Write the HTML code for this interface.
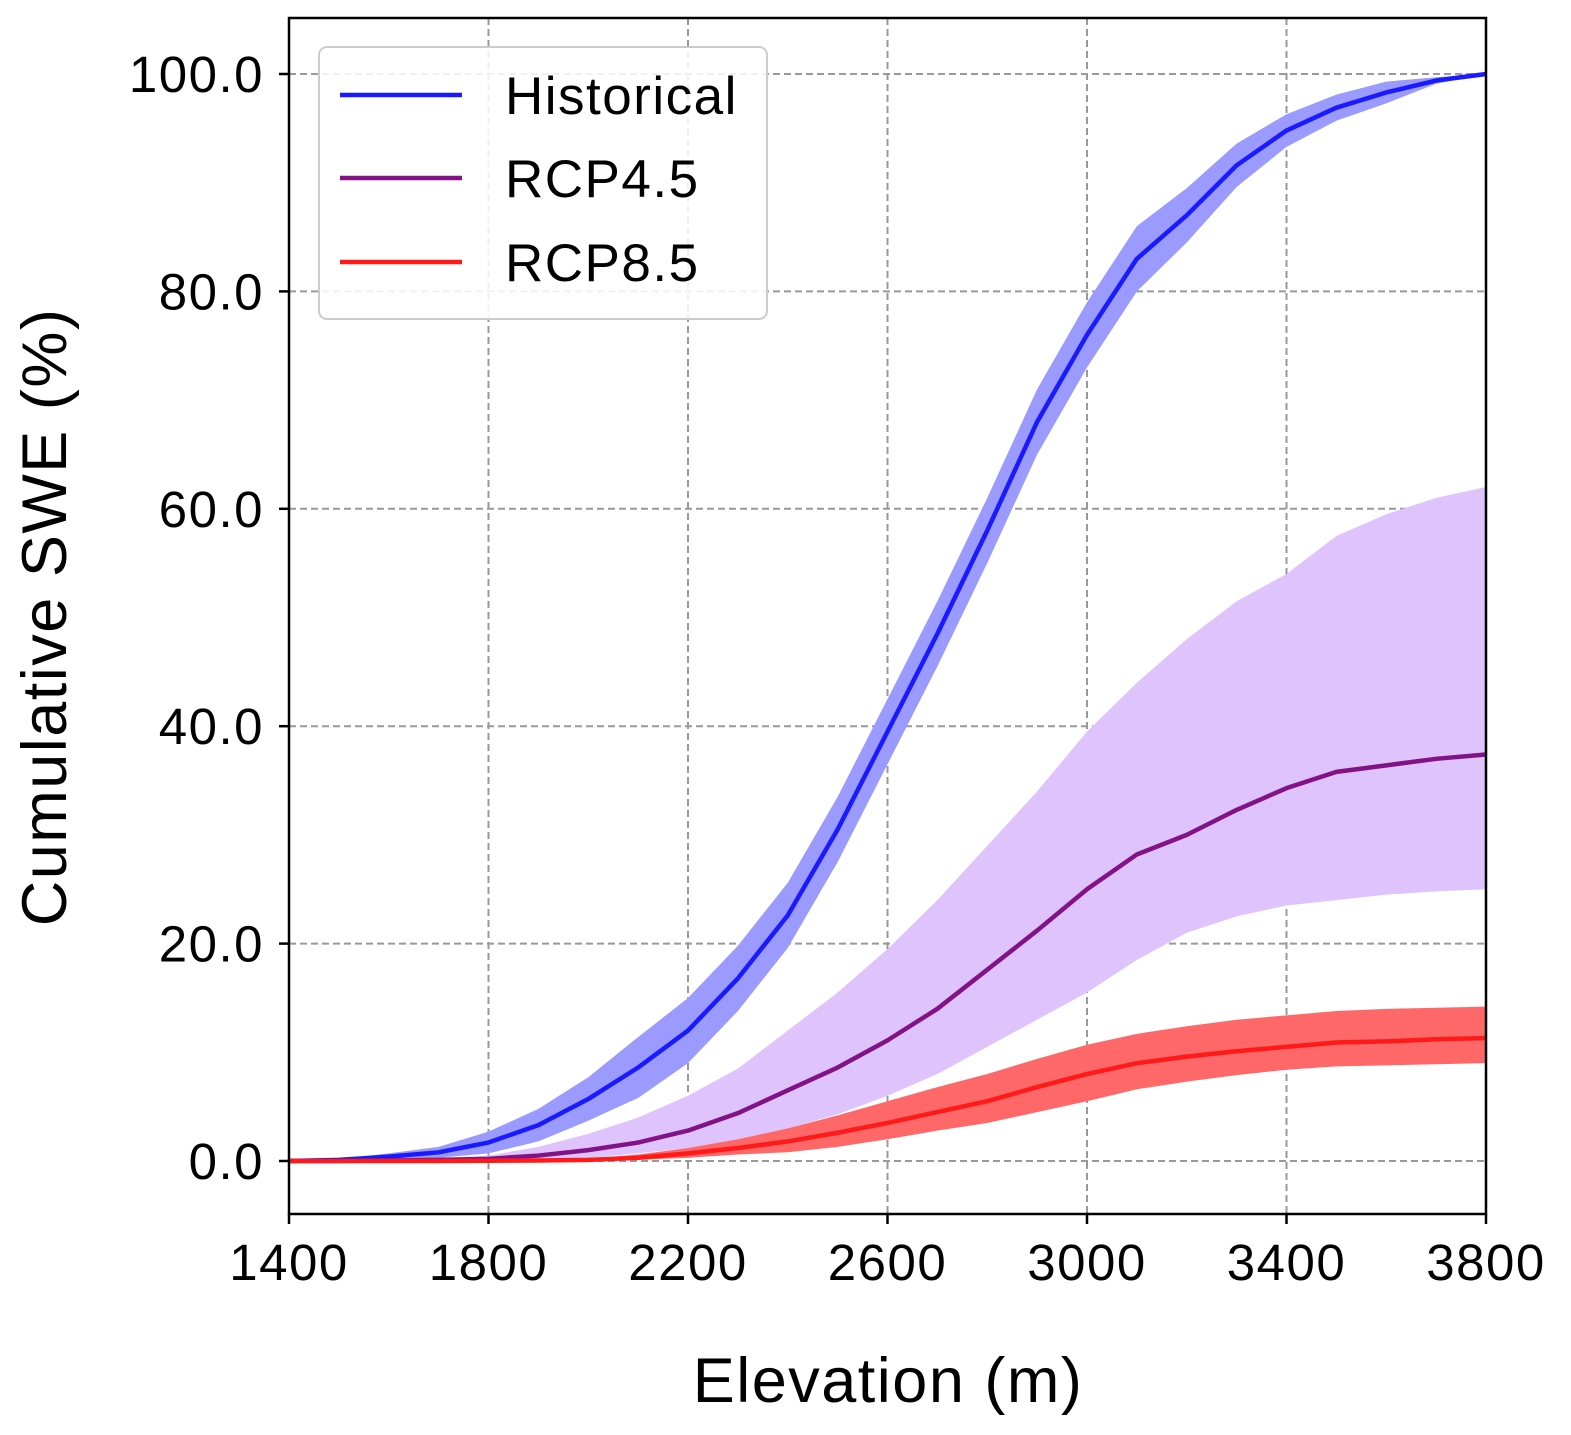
<!DOCTYPE html>
<html><head><meta charset="utf-8"><style>
html,body{margin:0;padding:0;background:#fff;}
svg{display:block;font-family:"Liberation Sans",Arial,sans-serif;}
</style></head><body>
<svg id="chart" width="1571" height="1435" viewBox="0 0 1571 1435"></svg>
<script>
const elev = [1400,1500,1600,1700,1800,1900,2000,2100,2200,2300,2400,2500,2600,2700,2800,2900,3000,3100,3200,3300,3400,3500,3600,3700,3800];
const histMean = [0,0.1,0.4,0.8,1.7,3.3,5.7,8.6,12,16.8,22.6,30.5,39.5,48.5,58,68,76,83,87,91.6,94.8,96.9,98.3,99.4,100];
const histLo = [0,0,0.1,0.3,0.7,1.8,3.7,5.8,9,13.8,19.6,27.5,36.5,45.5,55,65,73,80,84.5,89.6,93.3,95.7,97.3,99.1,100];
const histHi = [0,0.2,0.7,1.3,2.7,4.8,7.7,11.4,15,19.8,25.6,33.5,42.5,51.5,61,71,79,86,89.5,93.6,96.3,98.1,99.3,99.7,100];
const r45Mean = [0,0,0.05,0.1,0.2,0.5,1,1.7,2.8,4.4,6.5,8.6,11.1,14,17.6,21.2,25,28.2,30,32.3,34.3,35.8,36.4,37,37.4];
const r45Lo = [0,0,0,0,0,0.1,0.3,0.7,1.2,2,3,4.3,6,8,10.5,13,15.5,18.5,21,22.5,23.5,24,24.5,24.8,25];
const r45Hi = [0,0,0.1,0.2,0.5,1.3,2.5,4,6,8.5,12,15.5,19.5,24,29,34,39.5,44,48,51.5,54,57.5,59.5,61,62];
const r85Mean = [0,0,0,0,0.02,0.05,0.1,0.3,0.7,1.2,1.8,2.6,3.5,4.5,5.5,6.8,8,9,9.6,10.1,10.5,10.9,11,11.2,11.3];
const r85Lo = [0,0,0,0,0,0.02,0.05,0.1,0.3,0.6,0.8,1.3,2,2.8,3.5,4.5,5.5,6.6,7.3,7.9,8.4,8.7,8.8,8.9,9];
const r85Hi = [0,0,0,0,0.05,0.1,0.2,0.6,1.2,2,3,4.2,5.5,6.8,8,9.4,10.7,11.7,12.4,13,13.4,13.8,14,14.1,14.2];
const xTicks = [1400,1800,2200,2600,3000,3400,3800];
const yTicks = [0,20,40,60,80,100];

const L=289,R=1486,T=18,B=1214;
const xs=v=>L+(v-1400)/2400*(R-L);
const ys=v=>1161-v*10.87;
const NS="http://www.w3.org/2000/svg";
const svg=document.getElementById('chart');
function mk(tag,attrs,parent){const e=document.createElementNS(NS,tag);for(const k in attrs)e.setAttribute(k,attrs[k]);(parent||svg).appendChild(e);return e;}

const grid=mk('g',{});


xTicks.forEach(t=>{const l=mk('line',{x1:xs(t),x2:xs(t),y1:T,y2:B,stroke:'#999','stroke-width':2,'stroke-dasharray':'7,4'},grid);

});
yTicks.forEach(t=>{const l=mk('line',{x1:L,x2:R,y1:ys(t),y2:ys(t),stroke:'#999','stroke-width':2,'stroke-dasharray':'7,4'},grid);

});

function band(lo,hi,fill,name){
  let d='M'+elev.map((e,i)=>xs(e)+','+ys(hi[i])).join(' L');
  d+=' L'+elev.slice().reverse().map((e,j)=>{const i=elev.length-1-j;return xs(e)+','+ys(lo[i]);}).join(' L')+'Z';
  const p=mk('path',{d:d,fill:fill,stroke:'none'});
  
  
}
function line(vals,color,name){
  const d='M'+elev.map((e,i)=>xs(e)+','+ys(vals[i])).join(' L');
  const p=mk('path',{d:d,fill:'none',stroke:color,'stroke-width':4.5,'stroke-linejoin':'round'});
  
  
}
band(histLo,histHi,'#9a9aff','historical-band');
band(r45Lo,r45Hi,'#dfc3fd','rcp45-band');
band(r85Lo,r85Hi,'#ff6868','rcp85-band');
line(histMean,'#1a1aff','historical-line');
line(r45Mean,'#821386','rcp45-line');
line(r85Mean,'#ff1a1a','rcp85-line');

const frame=mk('rect',{x:L,y:T,width:R-L,height:B-T,fill:'none',stroke:'#000','stroke-width':2.5});



xTicks.forEach(t=>{mk('line',{x1:xs(t),x2:xs(t),y1:B,y2:B+10,stroke:'#000','stroke-width':2.5});
const tx=mk('text',{x:xs(t),y:B+66,'text-anchor':'middle','font-size':51,'letter-spacing':1.5});tx.textContent=t;

});
yTicks.forEach(t=>{mk('line',{x1:L-10,x2:L,y1:ys(t),y2:ys(t),stroke:'#000','stroke-width':2.5});
const tx=mk('text',{x:L-25,y:ys(t)+18,'text-anchor':'end','font-size':51,'letter-spacing':1.5});tx.textContent=t.toFixed(1);

});

const xt=mk('text',{x:888,y:1402,'text-anchor':'middle','font-size':63,'letter-spacing':1.5});xt.textContent='Elevation (m)';


const yt=mk('text',{x:0,y:0,'text-anchor':'middle','font-size':63,'letter-spacing':1.5,transform:'translate(66,617) rotate(-90)'});yt.textContent='Cumulative SWE (%)';



const lg=mk('g',{});


mk('rect',{x:319,y:47,width:448,height:272,rx:8,fill:'#fff','fill-opacity':0.85,stroke:'#ccc','stroke-width':2},lg);
const entries=[['Historical','#1a1aff',95],['RCP4.5','#821386',178],['RCP8.5','#ff1a1a',262]];
entries.forEach(en=>{
  const g=mk('g',{},lg);
  
  
  mk('line',{x1:340,x2:462,y1:en[2],y2:en[2],stroke:en[1],'stroke-width':4.5},g);
  const t=mk('text',{x:505,y:en[2]+19,'font-size':53,'letter-spacing':1.5},g);t.textContent=en[0];
});
</script>
</body></html>
